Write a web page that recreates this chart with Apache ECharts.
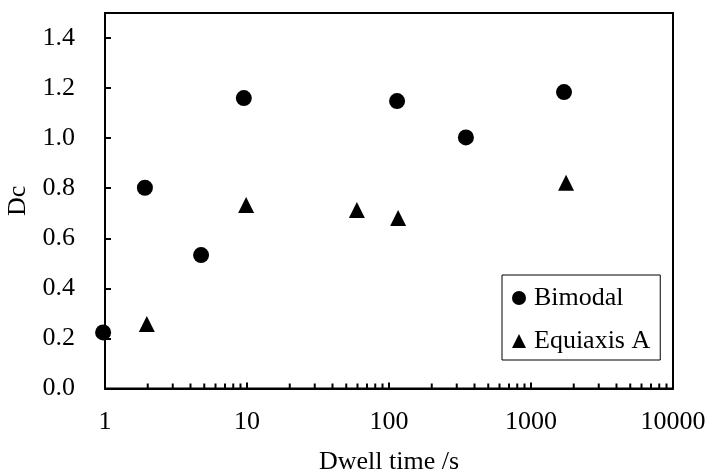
<!DOCTYPE html>
<html>
<head>
<meta charset="utf-8">
<script src="https://cdn.jsdelivr.net/npm/echarts@6/dist/echarts.min.js"></script>
<style>
  html, body { margin: 0; padding: 0; background: #fff; }
  #chart { width: 709px; height: 470px; }
</style>
</head>
<body>
<div id="chart"></div>
<script>
// Dwell time (s) and Dc for each microstructure type
const bimodalTime = [0.97, 1.91, 4.75, 9.5, 114, 348, 1708];
const bimodalDc   = [0.224, 0.802, 0.533, 1.160, 1.148, 1.003, 1.184];

const equiaxisTime = [1.97, 9.86, 59.4, 116, 1765];
const equiaxisDc   = [0.258, 0.733, 0.713, 0.681, 0.822];

// Minor tick positions on the logarithmic time axis
const minorTickValues = [
  2, 3, 4, 5, 6, 7, 8, 9,
  20, 30, 40, 50, 60, 70, 80, 90,
  200, 300, 400, 500, 600, 700, 800, 900,
  2000, 3000, 4000, 5000, 6000, 7000, 8000, 9000
];

const FONT = '"Liberation Serif", "Times New Roman", serif';
const FS = 26;

const chart = echarts.init(document.getElementById('chart'));

chart.setOption({
  animation: false,
  backgroundColor: '#ffffff',
  grid: {
    left: 105, top: 13, right: 36, bottom: 81.5,
    outerBoundsMode: 'none', containLabel: false,
    show: true, borderColor: '#000', borderWidth: 2, backgroundColor: 'transparent'
  },
  legend: {
    left: 502, top: 275,
    orient: 'vertical',
    itemWidth: 14, itemHeight: 14, itemGap: 17,
    padding: [10, 10, 6, 10],
    borderColor: '#000', borderWidth: 1,
    textStyle: { fontFamily: FONT, fontSize: FS, color: '#000', padding: [0, 0, 0, 3] },
    data: [
      { name: 'Bimodal', icon: 'circle' },
      { name: 'Equiaxis A', icon: 'triangle' }
    ]
  },
  xAxis: {
    type: 'log', logBase: 10, min: 1, max: 10000,
    name: 'Dwell time /s', nameLocation: 'middle', nameGap: 61,
    nameTextStyle: { fontFamily: FONT, fontSize: FS, color: '#000' },
    axisLine: { lineStyle: { color: '#000', width: 2 } },
    axisTick: { inside: true, length: 6, lineStyle: { color: '#000', width: 2 } },
    axisLabel: {
      fontFamily: FONT, fontSize: FS, color: '#000', margin: 21,
      formatter: v => String(Math.round(v))
    },
    splitLine: { show: false }
  },
  yAxis: {
    type: 'value', min: 0, max: 1.5, interval: 0.2,
    name: 'Dc', nameLocation: 'middle', nameGap: 72, nameRotate: 90,
    nameTextStyle: { fontFamily: FONT, fontSize: FS, color: '#000' },
    axisLine: { show: true, lineStyle: { color: '#000', width: 2 } },
    axisTick: { show: true, inside: true, length: 6, lineStyle: { color: '#000', width: 2 } },
    axisLabel: {
      fontFamily: FONT, fontSize: FS, color: '#000', margin: 30,
      showMaxLabel: false,
      formatter: v => v.toFixed(1)
    },
    splitLine: { show: false }
  },
  series: [
    {
      name: 'Bimodal', type: 'scatter', symbol: 'circle', symbolSize: 16, clip: false,
      itemStyle: { color: '#000', opacity: 1 },
      data: bimodalTime.map((t, i) => [t, bimodalDc[i]])
    },
    {
      name: 'Equiaxis A', type: 'scatter', symbol: 'triangle', symbolSize: 16, clip: false,
      itemStyle: { color: '#000', opacity: 1 },
      data: equiaxisTime.map((t, i) => [t, equiaxisDc[i]])
    },
    {
      // short inward minor ticks along the time axis
      type: 'custom', silent: true, z: 3,
      data: minorTickValues.map(v => [v, 0]),
      renderItem: (params, api) => {
        const p = api.coord([api.value(0), 0]);
        return {
          type: 'line',
          shape: { x1: p[0], y1: p[1], x2: p[0], y2: p[1] - 5 },
          style: { stroke: '#000', lineWidth: 2 }
        };
      }
    }
  ]
});
</script>
</body>
</html>
